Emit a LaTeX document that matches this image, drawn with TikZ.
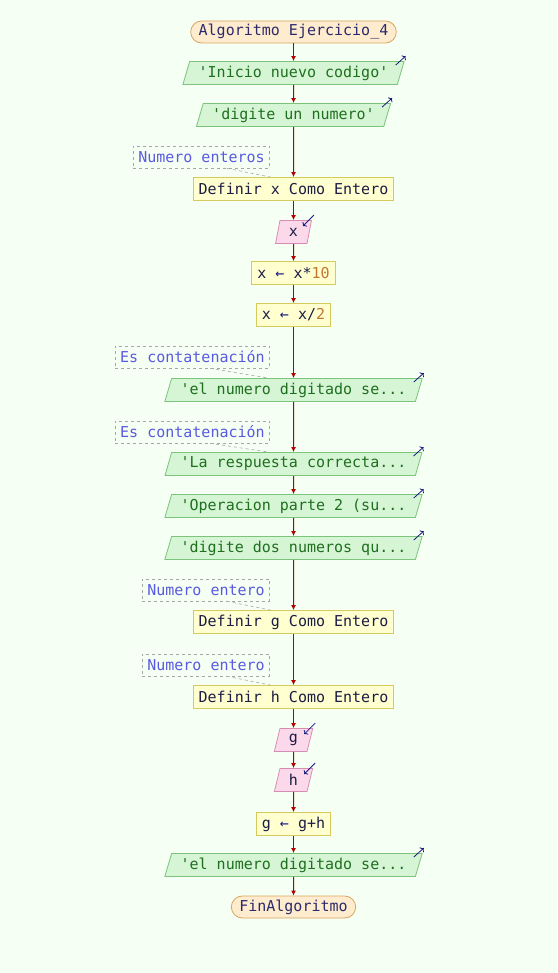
\documentclass[tikz,border=0pt]{standalone}
\usepackage{fontspec}
\newfontfamily\pseint[Ligatures=TeXOff]{DejaVu Sans Mono}
\usepackage{xcolor}
\usetikzlibrary{shapes.geometric}
\usetikzlibrary{arrows.meta}
\tikzset{>={Latex[length=5pt,width=5pt]}}
\definecolor{fondo}{HTML}{F5FFF3}
\definecolor{bordeterm}{HTML}{D9A55F}
\definecolor{rellenoterm}{HTML}{FFEBCD}
\definecolor{textoterm}{HTML}{2B2B6B}
\definecolor{bordesal}{HTML}{7CC47C}
\definecolor{rellenosal}{HTML}{D5F5D5}
\definecolor{textosal}{HTML}{1F6F1F}
\definecolor{bordeproc}{HTML}{D6CB5A}
\definecolor{rellenoproc}{HTML}{FFFFD0}
\definecolor{textoproc}{HTML}{1C1C45}
\definecolor{bordeent}{HTML}{D98CB3}
\definecolor{rellenoent}{HTML}{FCD9EA}
\definecolor{rojo}{HTML}{B00000}
\definecolor{azul}{HTML}{1A1A80}
\definecolor{textonota}{HTML}{5A5AE0}
\definecolor{numero}{HTML}{C07830}
\newcommand\asig{\textcolor{azul}{←}}
\newcommand\numero[1]{\textcolor{numero}{#1}}
\tikzset{base/.style = {font=\pseint\fontsize{15}{18}\selectfont, minimum height=23pt, inner xsep=5.5pt, inner ysep=2pt, line width=0.8pt}}
\tikzset{terminal/.style = {base, rounded corners=11pt, minimum height=22pt, inner xsep=8pt, draw=bordeterm, fill=rellenoterm, text=textoterm}}
\tikzset{proceso/.style = {base, draw=bordeproc, fill=rellenoproc, text=textoproc}}
\tikzset{salida/.style = {base, trapezium, trapezium left angle=70, trapezium right angle=110, trapezium stretches=true, inner xsep=9pt, draw=bordesal, fill=rellenosal, text=textosal}}
\tikzset{entrada/.style = {salida, draw=bordeent, fill=rellenoent, text=textoproc}}
\tikzset{nota/.style = {base, minimum height=22pt, inner xsep=5pt, draw=gray!70, dashed, line width=0.6pt, text=textonota, anchor=east}}
\tikzset{flecha/.style = {->, draw=rojo, line width=1pt}}
\tikzset{enlace/.style = {draw=gray!70, dashed, line width=0.6pt}}
\tikzset{icono/.style = {-{To[length=3pt]}, draw=azul, line width=0.8pt}}

\begin{document}
\begin{tikzpicture}[x=1pt,y=-1pt]
                    \fill[fondo] (0,0) rectangle (557,973);

                    \node[terminal] (ini) at (293.5,32) {Algoritmo Ejercicio\_4};
                    \node[salida] (s1) at (293.5,73) {'Inicio nuevo codigo'};
                    \node[salida] (s2) at (293.5,115) {'digite un numero'};
                    \node[nota] (n1) at (270,157) {Numero enteros};
                    \node[proceso] (d1) at (293.5,189) {Definir x Como Entero};
                    \node[entrada] (e1) at (293.5,232) {x};
                    \node[proceso] (a1) at (293.5,273) {x \asig{} x*\numero{10}};
                    \node[proceso] (a2) at (293.5,315) {x \asig{} x/\numero{2}};
                    \node[nota] (n2) at (270,357) {Es contatenación};
                    \node[salida] (s3) at (293.5,390) {'el numero digitado se...};
                    \node[nota] (n3) at (270,432) {Es contatenación};
                    \node[salida] (s4) at (293.5,464) {'La respuesta correcta...};
                    \node[salida] (s5) at (293.5,506) {'Operacion parte 2 (su...};
                    \node[salida] (s6) at (293.5,548) {'digite dos numeros qu...};
                    \node[nota] (n4) at (270,590) {Numero entero};
                    \node[proceso] (d2) at (293.5,622) {Definir g Como Entero};
                    \node[nota] (n5) at (270,665) {Numero entero};
                    \node[proceso] (d3) at (293.5,697) {Definir h Como Entero};
                    \node[entrada] (e2) at (293.5,740) {g};
                    \node[entrada] (e3) at (293.5,780) {h};
                    \node[proceso] (a3) at (293.5,824) {g \asig{} g+h};
                    \node[salida] (s7) at (293.5,865) {'el numero digitado se...};
                    \node[terminal] (fin) at (293.5,907) {FinAlgoritmo};

                    \draw[flecha] (ini) -- (s1);
                    \draw[flecha] (s1) -- (s2);
                    \draw[flecha] (s2) -- (d1);
                    \draw[flecha] (d1) -- (e1);
                    \draw[flecha] (e1) -- (a1);
                    \draw[flecha] (a1) -- (a2);
                    \draw[flecha] (a2) -- (s3);
                    \draw[flecha] (s3) -- (s4);
                    \draw[flecha] (s4) -- (s5);
                    \draw[flecha] (s5) -- (s6);
                    \draw[flecha] (s6) -- (d2);
                    \draw[flecha] (d2) -- (d3);
                    \draw[flecha] (d3) -- (e2);
                    \draw[flecha] (e2) -- (e3);
                    \draw[flecha] (e3) -- (a3);
                    \draw[flecha] (a3) -- (s7);
                    \draw[flecha] (s7) -- (fin);

                    % comentarios
                    \draw[enlace] ([xshift=-43pt]n1.south east) -- ([xshift=-23pt]d1.north);
                    \draw[enlace] ([xshift=-60pt]n2.south east) -- ([xshift=-25pt]s3.north);
                    \draw[enlace] ([xshift=-60pt]n3.south east) -- ([xshift=-25pt]s4.north);
                    \draw[enlace] ([xshift=-43pt]n4.south east) -- ([xshift=-23pt]d2.north);
                    \draw[enlace] ([xshift=-43pt]n5.south east) -- ([xshift=-23pt]d3.north);

                    % iconos de escritura y lectura
                    \draw[icono] ([xshift=-9pt,yshift=-4pt]s1.top right corner) -- ([xshift=1pt,yshift=5pt]s1.top right corner);
                    \draw[icono] ([xshift=-9pt,yshift=-4pt]s2.top right corner) -- ([xshift=1pt,yshift=5pt]s2.top right corner);
                    \draw[icono] ([xshift=-9pt,yshift=-4pt]s3.top right corner) -- ([xshift=1pt,yshift=5pt]s3.top right corner);
                    \draw[icono] ([xshift=-9pt,yshift=-4pt]s4.top right corner) -- ([xshift=1pt,yshift=5pt]s4.top right corner);
                    \draw[icono] ([xshift=-9pt,yshift=-4pt]s5.top right corner) -- ([xshift=1pt,yshift=5pt]s5.top right corner);
                    \draw[icono] ([xshift=-9pt,yshift=-4pt]s6.top right corner) -- ([xshift=1pt,yshift=5pt]s6.top right corner);
                    \draw[icono] ([xshift=-9pt,yshift=-4pt]s7.top right corner) -- ([xshift=1pt,yshift=5pt]s7.top right corner);
                    \draw[icono] ([xshift=2pt,yshift=5pt]e1.top right corner) -- ([xshift=-9pt,yshift=-6pt]e1.top right corner);
                    \draw[icono] ([xshift=2pt,yshift=5pt]e2.top right corner) -- ([xshift=-9pt,yshift=-6pt]e2.top right corner);
                    \draw[icono] ([xshift=2pt,yshift=5pt]e3.top right corner) -- ([xshift=-9pt,yshift=-6pt]e3.top right corner);
                \end{tikzpicture}
\end{document}
